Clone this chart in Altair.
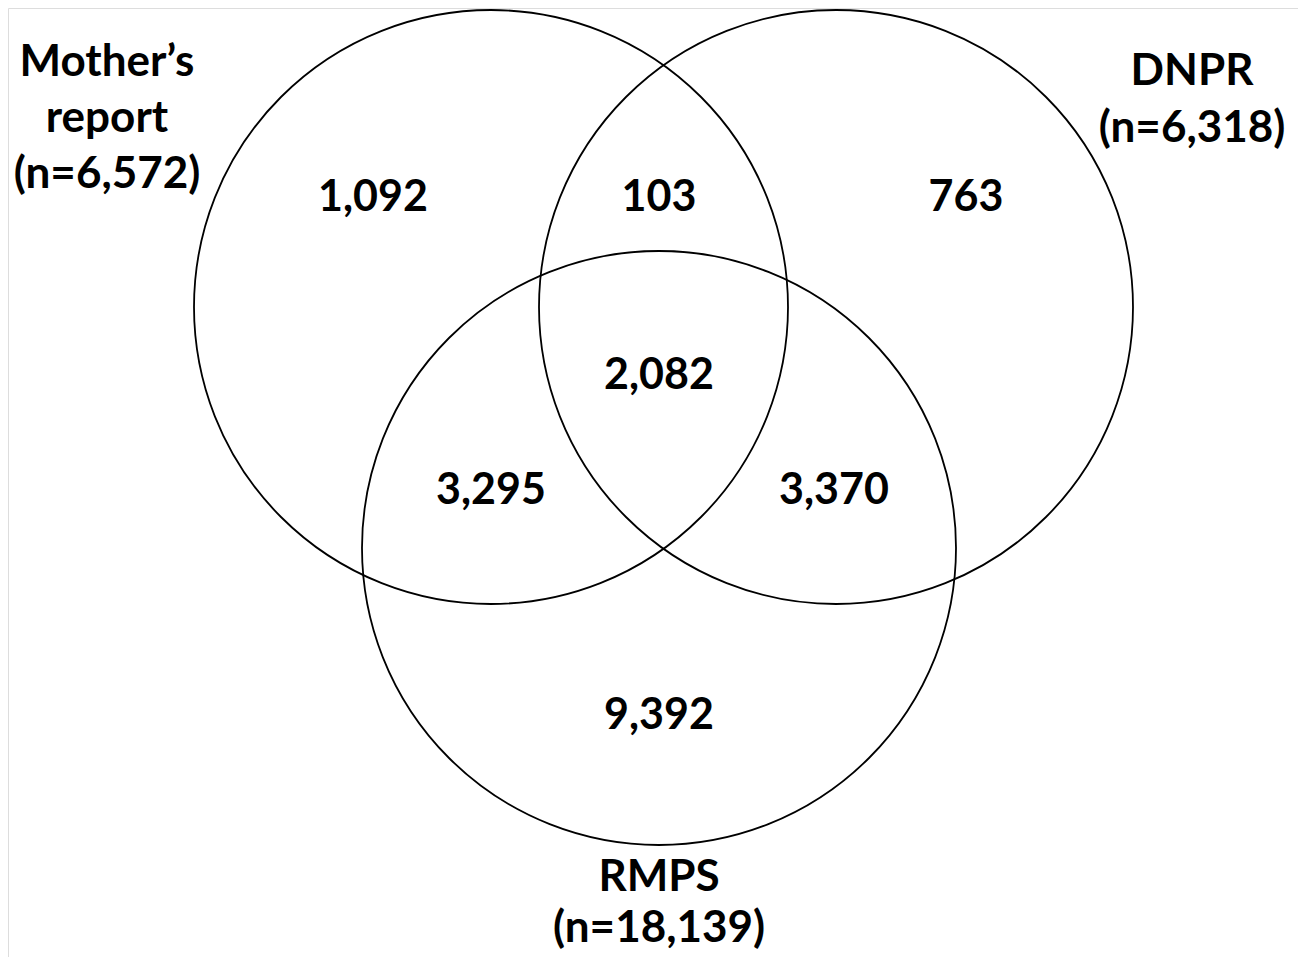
import altair as alt
import pandas as pd

# Venn sets
set_names = ["Mother’s report", "DNPR", "RMPS"]
set_totals = ["(n=6,572)", "(n=6,318)", "(n=18,139)"]

# region counts
region_labels = ["Mother only", "Mother & DNPR", "DNPR only", "All three",
                 "Mother & RMPS", "DNPR & RMPS", "RMPS only"]
region_values = ["1,092", "103", "763", "2,082", "3,295", "3,370", "9,392"]

# layout (pixel-like coordinates of the reference)
circle_cx = [491, 836, 659]
circle_cy = [307, 307, 548]
circle_r = 297
region_x = [373, 659, 966, 659, 491, 834, 659]
region_y = [198, 198, 198, 376, 491, 491, 716]

label_lines = ["Mother’s", "report", "(n=6,572)", "DNPR", "(n=6,318)", "RMPS", "(n=18,139)"]
label_x = [107, 107, 107, 1192, 1192, 659, 659]
label_y = [63, 119, 175, 72, 129, 878, 929]

W, H = 1290, 949
xs = alt.Scale(domain=[8, 8 + W], nice=False, zero=False)
ys = alt.Scale(domain=[8, 8 + H], nice=False, zero=False, reverse=True)

circles = pd.DataFrame({"set": set_names, "cx": circle_cx, "cy": circle_cy})
regions = pd.DataFrame({"region": region_labels, "value": region_values, "x": region_x, "y": region_y})
labels = pd.DataFrame({"text": label_lines, "x": label_x, "y": label_y})

# Vega circle symbol: radius = sqrt(size)/2
size = (2 * circle_r) ** 2

circ = alt.Chart(circles).mark_point(
    shape="circle", filled=False, size=size, stroke="black", strokeWidth=1.8, opacity=1
).encode(
    x=alt.X("cx:Q", scale=xs, axis=None),
    y=alt.Y("cy:Q", scale=ys, axis=None),
)

num_style = dict(font="Lato", fontWeight="bold", fontSize=43, color="black",
                 align="center", baseline="middle")
lab_style = dict(font="Lato", fontWeight="bold", fontSize=44, color="black",
                 align="center", baseline="middle")

nums = alt.Chart(regions).mark_text(**num_style).encode(
    x=alt.X("x:Q", scale=xs, axis=None),
    y=alt.Y("y:Q", scale=ys, axis=None),
    text="value:N",
)

labs = alt.Chart(labels).mark_text(**lab_style).encode(
    x=alt.X("x:Q", scale=xs, axis=None),
    y=alt.Y("y:Q", scale=ys, axis=None),
    text="text:N",
)

chart = alt.layer(circ, nums, labs).properties(
    width=W, height=H, padding=0,
    autosize=alt.AutoSizeParams(type="none"),
).configure_view(stroke=None, strokeWidth=0).configure(background="white")

chart.save("out.html", embed_options={"renderer": "svg", "actions": False})
